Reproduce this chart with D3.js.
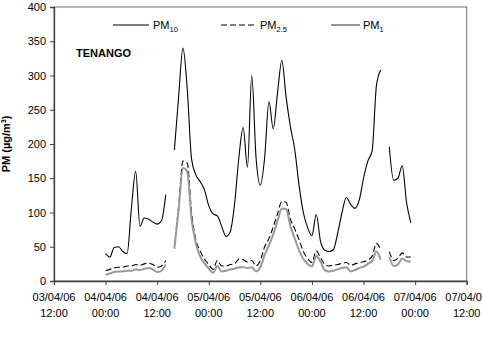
<!DOCTYPE html>
<html><head><meta charset="utf-8">
<script src="https://cdn.jsdelivr.net/npm/d3@7"></script>
<style>body{margin:0;background:#fff;}svg{display:block;font-family:"Liberation Sans",Arial,sans-serif;}</style>
</head><body>
<svg id="c" width="482" height="338"></svg>
<script>
// hours after 03/04/06 00:00
const hours = [24,25,26,27,28,29,30,31,32,33,34,35,36,37,38,39,40,41,42,43,44,45,46,47,48,49,50,51,52,53,54,55,56,57,58,59,60,61,62,63,64,65,66,67,68,69,70,71,72,73,74,75,76,77,78,79,80,81,82,83,84,85,86,87,88,89,90,91,92,93,94,95];
const pm10 = [40,35,49,50,43,40,106,160,80,92,90,86,83,88,126,null,
  191,270,340,280,178,155,145,133,110,98,95,80,65,72,112,180,224,166,300,180,140,180,262,222,275,322,268,225,192,140,100,78,66,97,58,45,43,46,70,100,122,112,106,118,150,175,190,285,308,null,
  196,147,150,168,115,85];
const pm25 = [15,17,19,20,20,22,22,24,23,25,26,24,20,22,30,null,
  50,110,175,172,100,60,44,32,24,17,30,22,22,24,25,32,31,28,30,22,30,50,62,79,98,116,115,90,76,60,43,33,27,44,34,24,22,23,24,26,27,23,25,27,28,31,36,55,45,null,
  43,30,33,41,35,35];
const pm1 = [9,11,13,14,14,15,15,17,16,18,19,17,13,15,24,null,
  47,105,165,160,90,55,36,26,18,12,22,14,15,17,18,20,20,19,20,14,20,38,52,68,88,106,105,80,62,45,32,25,21,37,28,16,14,15,17,19,20,14,16,19,21,25,29,43,31,null,
  35,22,24,33,29,28];
const xTickHours = [12,24,36,48,60,72,84,96,108];
const xTickLabels = [["03/04/06","12:00"],["04/04/06","00:00"],["04/04/06","12:00"],["05/04/06","00:00"],["05/04/06","12:00"],["06/04/06","00:00"],["06/04/06","12:00"],["07/04/06","00:00"],["07/04/06","12:00"]];
const yTicks = [0,50,100,150,200,250,300,350,400];

const svg = d3.select("#c");
const L = 54, R = 466.7, T = 7, B = 281;
const x = d3.scaleLinear().domain([12,108]).range([L,R]);
const y = d3.scaleLinear().domain([0,400]).range([B,T]);

// frame
svg.append("rect").attr("x",L).attr("y",T).attr("width",R-L).attr("height",B-T)
  .attr("fill","none").attr("stroke","#707070").attr("stroke-width",1);

// y axis
const ya = svg.append("g").attr("transform",`translate(${L},0)`)
  .call(d3.axisLeft(y).tickValues(yTicks).tickSize(4).tickPadding(4).tickFormat(d3.format("d")));
ya.select(".domain").attr("stroke","#404040").attr("stroke-width",1.3);
ya.selectAll(".tick line").attr("stroke","#404040");
ya.selectAll("text").attr("font-size",11).attr("fill","#000").attr("font-family","Liberation Sans, Arial, sans-serif");

// x axis
const xa = svg.append("g").attr("transform",`translate(0,${B})`)
  .call(d3.axisBottom(x).tickValues(xTickHours).tickSize(4).tickFormat(""));
xa.select(".domain").attr("stroke","#404040").attr("stroke-width",1.3);
xa.selectAll(".tick line").attr("stroke","#404040");
xTickHours.forEach((h,i)=>{
  const t = svg.append("text").attr("x",x(h)).attr("text-anchor","middle").attr("font-size",11);
  t.append("tspan").attr("x",x(h)).attr("y",301).text(xTickLabels[i][0]);
  t.append("tspan").attr("x",x(h)).attr("y",317).text(xTickLabels[i][1]);
});

// y title
const yt = svg.append("text").attr("transform","translate(10,144) rotate(-90)")
  .attr("text-anchor","middle").attr("font-size",11).attr("font-weight","bold");
yt.append("tspan").text("PM (µg/m");
yt.append("tspan").attr("font-size",7).attr("dy",-4).text("3");
yt.append("tspan").attr("dy",4).text(")");

// station label
svg.append("text").attr("x",76).attr("y",57).attr("font-size",11).attr("font-weight","bold").text("TENANGO");

// lines
const mk = vals => d3.line().defined((d,i)=>vals[i]!==null)
  .x((d,i)=>x(hours[i])).y((d,i)=>y(vals[i])).curve(d3.curveMonotoneX)(vals);
svg.append("path").attr("d",mk(pm10)).attr("fill","none").attr("stroke","#000").attr("stroke-width",1.1);
svg.append("path").attr("d",mk(pm25)).attr("fill","none").attr("stroke","#000").attr("stroke-width",1.1).attr("stroke-dasharray","6,3");
svg.append("path").attr("d",mk(pm1)).attr("fill","none").attr("stroke","#999").attr("stroke-width",2);

// legend
const leg = [
  {x1:113,x2:149,tx:153,name:"PM",sub:"10",stroke:"#000",w:1.1,dash:null},
  {x1:221,x2:257,tx:260,name:"PM",sub:"2.5",stroke:"#000",w:1.1,dash:"6,3"},
  {x1:331,x2:360,tx:363,name:"PM",sub:"1",stroke:"#999",w:2,dash:null}
];
leg.forEach(l=>{
  svg.append("line").attr("x1",l.x1).attr("x2",l.x2).attr("y1",25).attr("y2",25)
    .attr("stroke",l.stroke).attr("stroke-width",l.w).attr("stroke-dasharray",l.dash);
  const t = svg.append("text").attr("x",l.tx).attr("y",29).attr("font-size",11);
  t.append("tspan").text(l.name);
  t.append("tspan").attr("font-size",7.5).attr("dy",2.5).text(l.sub);
});
</script>
</body></html>
